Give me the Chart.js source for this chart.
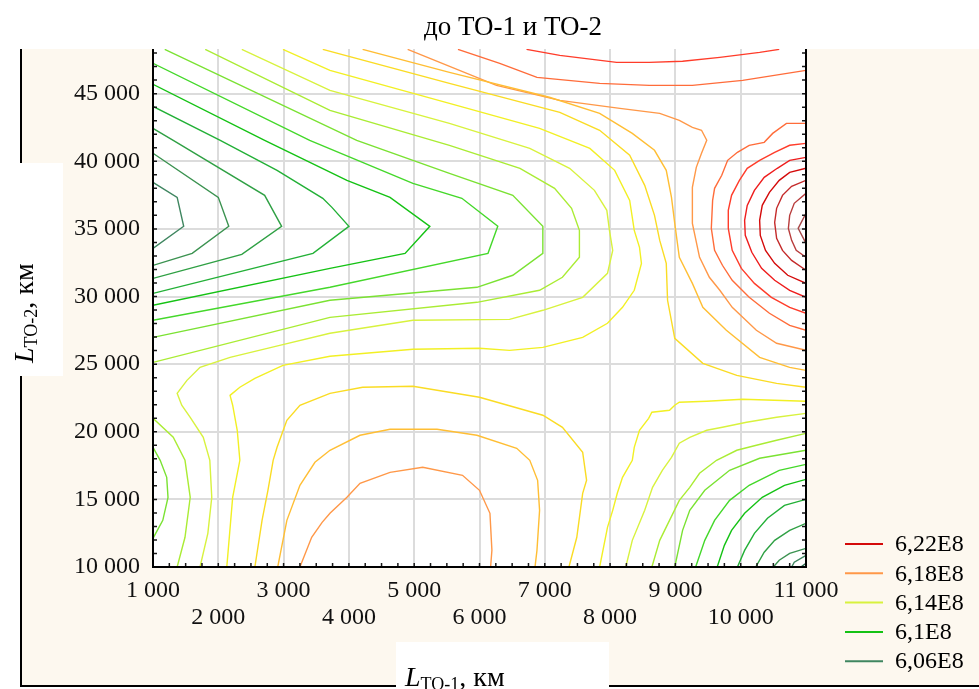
<!DOCTYPE html>
<html lang="ru">
<head>
<meta charset="utf-8">
<title>до ТО-1 и ТО-2</title>
<script src="https://cdn.jsdelivr.net/npm/chart.js@4.4.1/dist/chart.umd.min.js"></script>
<style>
  html, body { margin: 0; background: #ffffff; }
  #box { position: relative; width: 979px; height: 689px; }
</style>
</head>
<body>
<div id="box"><canvas id="plot"></canvas></div>
<script>
const xTicks = [1000, 2000, 3000, 4000, 5000, 6000, 7000, 8000, 9000, 10000, 11000];
const yTicks = [10000, 15000, 20000, 25000, 30000, 35000, 40000, 45000];
const xLimits = [1000, 11000];
const yLimits = [10000, 48300];

const legendNames = ['6,22E8', '6,18E8', '6,14E8', '6,1E8', '6,06E8'];
const legendLevels = [622, 618, 614, 610, 606];

// contour lines, one array per level; every line is a list of [L_TO-1, L_TO-2] points
const z605 = [
  [[11000, 10270], [10920, 10000]]
];
const z606 = [
  [[1000, 38440], [1370, 37330], [1470, 35190], [1000, 33560]],
  [[11000, 10860], [10820, 10350], [10780, 10000]]
];
const z607 = [
  [[1000, 40590], [2000, 37330], [2160, 35190], [1600, 33190], [1000, 32300]],
  [[11000, 11380], [10750, 11010], [10590, 10500], [10500, 10000]]
];
const z608 = [
  [[1000, 42430], [1310, 41550], [2710, 37480], [2970, 35190], [2360, 33120], [1000, 31340]],
  [[11000, 13230], [10750, 12710], [10520, 11970], [10360, 11090], [10230, 10000]]
];
const z609 = [
  [[1000, 44060], [2030, 41550], [2900, 39330], [3600, 37260], [3740, 36590], [4000, 35190], [3450, 33190], [1000, 30230]],
  [[11000, 15000], [10670, 14560], [10410, 13600], [10210, 12490], [10060, 11230], [9950, 10000]]
];
const z610 = [
  [[1000, 45690], [2710, 41550], [3970, 38590], [4630, 37330], [5240, 35190], [4860, 33190], [3710, 32080], [1000, 29350]],
  [[11000, 16480], [10670, 16040], [10330, 15150], [10060, 13970], [9860, 12710], [9750, 11600], [9640, 10000]]
];
const z611 = [
  [[1000, 47240], [3400, 41550], [4980, 38370], [5730, 37260], [6280, 35190], [6130, 33190], [3710, 30680], [1000, 28240]],
  [[11000, 17590], [10590, 17150], [10130, 16040], [9830, 14930], [9600, 13450], [9450, 11970], [9310, 10000]]
];
const z612 = [
  [[1180, 48270], [4120, 41550], [5540, 39110], [6510, 37480], [6970, 35190], [6970, 33190], [6510, 31570], [5960, 30680], [3710, 29720], [1000, 26980]],
  [[11000, 18630], [10290, 18040], [9830, 17150], [9450, 15670], [9220, 14190], [9110, 12710], [8990, 10000]],
  [[1000, 18850], [1110, 17890], [1210, 16630], [1230, 15150], [1150, 13450], [1000, 12120]]
];
const z613 = [
  [[1800, 48270], [3710, 43760], [5540, 41180], [6620, 39480], [7150, 38000], [7410, 36520], [7530, 34890], [7530, 32900], [7270, 31420], [6920, 30460], [5960, 29570], [3710, 28460], [1000, 25130]],
  [[1000, 20990], [1310, 19590], [1490, 17890], [1570, 15150], [1490, 12200], [1370, 10000]],
  [[11000, 19880], [10550, 19370], [10240, 19000], [9940, 18630], [9630, 17890], [9370, 16930], [9220, 15890], [9060, 14930], [8910, 13450], [8760, 11970], [8640, 10000]]
];
const z614 = [
  [[2360, 48270], [3710, 45240], [5540, 42800], [6770, 40950], [7380, 39480], [7760, 37850], [7950, 36370], [7990, 34890], [8040, 33410], [7960, 31710], [7580, 29940], [6970, 28980], [6460, 28310], [4980, 28240], [3710, 27280], [2940, 26390], [2180, 25500], [1720, 24760], [1520, 23800], [1370, 22840], [1440, 21960], [1570, 21070], [1770, 19590], [1870, 17890], [1900, 15150], [1840, 12490], [1720, 10000]],
  [[11000, 21360], [10550, 21070], [10090, 20700], [9720, 20330], [9480, 20110], [9220, 19590], [9060, 19150], [8940, 18110], [8800, 17150], [8650, 15890], [8530, 14190], [8340, 11970], [8240, 10000]]
];
const z615 = [
  [[2990, 48270], [3710, 46720], [5540, 44280], [6920, 42430], [7690, 40950], [8070, 39330], [8300, 37110], [8370, 34890], [8450, 33640], [8480, 32450], [8370, 30460], [8190, 29200], [7960, 28020], [7580, 26980], [6970, 26240], [6460, 26020], [6000, 26170], [4980, 26100], [3710, 25580], [2990, 24910], [2560, 23950], [2330, 23290], [2180, 22690], [2220, 21960], [2290, 20110], [2330, 17890], [2220, 15150], [2130, 10000]],
  [[11000, 22250], [10030, 22400], [9480, 22250], [9060, 22180], [8990, 21960], [8910, 21590], [8640, 21440], [8590, 20990], [8450, 20110], [8370, 18850], [8340, 17890], [8190, 16630], [8110, 15450], [8040, 14190], [7960, 12930], [7840, 10000]]
];
const z616 = [
  [[3600, 48270], [5540, 45760], [7230, 43620], [7840, 42290], [8300, 40440], [8530, 38220], [8680, 36000], [8760, 34150], [8860, 32450], [8880, 29720], [8990, 26910], [9420, 25060], [9940, 24170], [10550, 23580], [11000, 23290]],
  [[2560, 10000], [2670, 13450], [2760, 15670], [2840, 17890], [2900, 18850], [3050, 20850], [3250, 21960], [3710, 22840], [4210, 23290], [4980, 23360], [6000, 22550], [6970, 21220], [7270, 20330], [7580, 18480], [7640, 16410], [7580, 15450], [7490, 12200], [7370, 10000]]
];
const z617 = [
  [[4210, 48270], [5540, 46570], [7070, 44730], [7840, 43540], [8340, 42060], [8680, 40810], [8860, 39330], [8940, 37330], [8990, 35410], [9060, 32900], [9260, 30970], [9420, 29200], [9780, 27500], [10290, 25500], [10750, 24760], [11000, 24540]],
  [[2910, 10000], [3050, 13450], [3250, 16040], [3480, 17740], [3710, 18630], [4170, 19740], [4630, 20180], [5350, 20180], [5960, 19740], [6570, 18780], [6770, 17890], [6890, 16410], [6920, 14190], [6880, 11230], [6850, 10000]]
];
const z618 = [
  [[4900, 48270], [6260, 45610], [7230, 44500], [8150, 43910], [8760, 43540], [9060, 43020], [9260, 42510], [9400, 42290], [9480, 41550], [9400, 40590], [9320, 39550], [9260, 38070], [9260, 35410], [9370, 32900], [9520, 31420], [9680, 30460], [9870, 29200], [10240, 27500], [10550, 26540], [11000, 26020]],
  [[3250, 10000], [3430, 12200], [3590, 13300], [3710, 13970], [3970, 15150], [4170, 16190], [4630, 17000], [5130, 17370], [5740, 16780], [6000, 15670], [6160, 13970], [6190, 11230], [6170, 10000]]
];
const z619 = [
  [[5670, 48270], [6310, 47240], [6880, 46200], [7840, 45760], [8600, 45610], [9260, 45610], [10030, 45980], [11000, 46720]],
  [[11000, 42800], [10700, 42800], [10490, 42060], [10360, 41400], [10130, 41180], [9950, 40660], [9800, 40070], [9710, 38960], [9600, 38000], [9570, 37110], [9550, 35040], [9600, 33410], [9720, 32310], [9870, 31200], [10130, 29940], [10440, 28760], [10750, 27870], [11000, 27500]]
];
const z620 = [
  [[6720, 48270], [7230, 47830], [8100, 47310], [8600, 47310], [9110, 47390], [9680, 47680], [10290, 48050], [10590, 48270]],
  [[11000, 41320], [10750, 41180], [10520, 40660], [10290, 40070], [10100, 39480], [9980, 38590], [9860, 37480], [9810, 36370], [9810, 35040], [9870, 33410], [10010, 32080], [10210, 30970], [10470, 29940], [10750, 29200], [11000, 28760]]
];
const z621 = [
  [[11000, 40290], [10750, 40070], [10560, 39480], [10360, 38810], [10210, 37850], [10100, 36740], [10060, 35630], [10070, 34520], [10170, 33270], [10320, 32080], [10520, 31200], [10750, 30460], [11000, 29940]]
];
const z622 = [
  [[11000, 39480], [10750, 39180], [10590, 38590], [10440, 37700], [10330, 36740], [10290, 35630], [10300, 34520], [10380, 33410], [10520, 32450], [10720, 31570], [11000, 30970]]
];
const z623 = [
  [[11000, 38590], [10780, 38150], [10640, 37480], [10550, 36520], [10520, 35480], [10550, 34300], [10640, 33410], [10780, 32670], [11000, 31940]]
];
const z624 = [
  [[11000, 37630], [10820, 36890], [10750, 36000], [10730, 35040], [10780, 34150], [10850, 33410], [11000, 32900]]
];
const z625 = [
  [[11000, 36150], [10880, 35040], [11000, 33930]]
];

const contours = {
  605: z605, 606: z606, 607: z607, 608: z608, 609: z609, 610: z610, 611: z611,
  612: z612, 613: z613, 614: z614, 615: z615, 616: z616, 617: z617, 618: z618,
  619: z619, 620: z620, 621: z621, 622: z622, 623: z623, 624: z624, 625: z625
};

const levelColors = {
  605: '#2f6f52', 606: '#3f8660', 607: '#3b9250', 608: '#2fa044', 609: '#22b036',
  610: '#14c214', 611: '#44d82a', 612: '#7ae232', 613: '#aaec34', 614: '#d8f23e',
  615: '#f2f024', 616: '#fadc24', 617: '#ffbe34', 618: '#ff9848', 619: '#ff6c3a',
  620: '#ff3c2a', 621: '#ee1c1c', 622: '#d40a0a', 623: '#c42a2a', 624: '#b83c3c', 625: '#a84a4a'
};

const serif = '"Liberation Serif", "Times New Roman", serif';
const cream = '#fdf8ef';

const datasets = [];
for (const lvl in contours) {
  contours[lvl].forEach(line => {
    datasets.push({
      data: line.map(([x, y]) => ({ x, y })),
      borderColor: levelColors[lvl],
      borderWidth: 1.4,
      showLine: true,
      pointRadius: 0,
      fill: false,
      tension: 0
    });
  });
}

const fmt = v => String(v).replace(/\B(?=(\d{3})+(?!\d))/g, ' ');

function drawParts(ctx, x, y, parts) {
  let cx = x;
  for (const p of parts) {
    ctx.font = p.font;
    ctx.fillText(p.text, cx, y + p.dy);
    cx += ctx.measureText(p.text).width;
  }
}

const axisName = sub => [
  { text: 'L', font: `italic 28px ${serif}`, dy: 0 },
  { text: sub, font: `18px ${serif}`, dy: 4 },
  { text: ', км', font: `28px ${serif}`, dy: 0 }
];

const decor = {
  id: 'decor',
  beforeDraw(chart) {
    const { ctx, chartArea: a, width, height } = chart;
    ctx.save();
    ctx.fillStyle = '#ffffff';
    ctx.fillRect(0, 0, width, height);
    ctx.fillStyle = cream;
    ctx.fillRect(21, 49, width - 21, 637);
    ctx.strokeStyle = '#000000';
    ctx.lineWidth = 2;
    ctx.beginPath();
    ctx.moveTo(21, 49);
    ctx.lineTo(21, 686);
    ctx.lineTo(width, 686);
    ctx.stroke();
    ctx.fillStyle = '#ffffff';
    ctx.fillRect(19, 163, 44, 213);
    ctx.fillRect(396, 642, 213, 47);
    ctx.fillRect(a.left, a.top, a.right - a.left, a.bottom - a.top);
    ctx.restore();
  },
  afterDatasetsDraw(chart) {
    const { ctx, chartArea: a, scales: { x, y } } = chart;
    ctx.save();
    ctx.strokeStyle = '#1a1a1a';
    ctx.lineWidth = 1.5;
    ctx.beginPath();
    for (let v = xLimits[0]; v <= xLimits[1]; v += 250) {
      const px = x.getPixelForValue(v);
      ctx.moveTo(px, a.bottom);
      ctx.lineTo(px, a.bottom - 4);
    }
    for (let v = yLimits[0]; v <= yLimits[1]; v += 1000) {
      const py = y.getPixelForValue(v);
      ctx.moveTo(a.left, py);
      ctx.lineTo(a.left + 4, py);
      ctx.moveTo(a.right, py);
      ctx.lineTo(a.right - 4, py);
    }
    ctx.stroke();
    ctx.strokeStyle = '#000000';
    ctx.lineWidth = 2;
    ctx.beginPath();
    ctx.moveTo(a.left, a.top);
    ctx.lineTo(a.left, a.bottom);
    ctx.lineTo(a.right, a.bottom);
    ctx.lineTo(a.right, a.top);
    ctx.stroke();
    ctx.restore();
  },
  afterDraw(chart) {
    const { ctx } = chart;
    ctx.save();
    ctx.fillStyle = '#000000';
    ctx.textBaseline = 'alphabetic';

    ctx.font = `27px ${serif}`;
    ctx.textAlign = 'center';
    ctx.fillText('до ТО-1 и ТО-2', 513, 35);

    ctx.textAlign = 'left';
    drawParts(ctx, 405, 686, axisName('ТО-1'));

    ctx.save();
    ctx.translate(33, 363);
    ctx.rotate(-Math.PI / 2);
    drawParts(ctx, 0, 0, axisName('ТО-2'));
    ctx.restore();

    // legend
    ctx.font = `24px ${serif}`;
    ctx.textBaseline = 'middle';
    legendNames.forEach((name, i) => {
      const ly = 544 + i * 29.3;
      ctx.strokeStyle = levelColors[legendLevels[i]];
      ctx.lineWidth = 2;
      ctx.beginPath();
      ctx.moveTo(845, ly);
      ctx.lineTo(883, ly);
      ctx.stroke();
      ctx.fillText(name, 895, ly + 1);
    });
    ctx.restore();
  }
};

new Chart(document.getElementById('plot'), {
  type: 'scatter',
  data: { datasets },
  options: {
    responsive: true,
    maintainAspectRatio: false,
    devicePixelRatio: 1,
    animation: false,
    events: [],
    layout: { padding: { top: 49, right: 173, bottom: 0, left: 0 } },
    plugins: { legend: { display: false }, tooltip: { enabled: false } },
    scales: {
      x: {
        type: 'linear',
        min: xLimits[0],
        max: xLimits[1],
        afterBuildTicks: s => { s.ticks = xTicks.map(v => ({ value: v })); },
        afterFit: s => { s.height = 122; },
        grid: { color: '#dcdcdc', lineWidth: 2, drawTicks: false },
        border: { display: false },
        ticks: {
          autoSkip: false,
          maxRotation: 0,
          padding: 10,
          color: '#111111',
          font: { family: serif, size: 24, lineHeight: 1.125 },
          callback: v => ((v / 1000) % 2 === 1 ? [fmt(v), ''] : ['', fmt(v)])
        }
      },
      y: {
        type: 'linear',
        min: yLimits[0],
        max: yLimits[1],
        afterBuildTicks: s => { s.ticks = yTicks.map(v => ({ value: v })); },
        afterFit: s => { s.width = 153; },
        grid: { color: '#dcdcdc', lineWidth: 2, drawTicks: false },
        border: { display: false },
        ticks: {
          padding: 13,
          color: '#111111',
          font: { family: serif, size: 24 },
          callback: v => fmt(v)
        }
      }
    }
  },
  plugins: [decor]
});
</script>
</body>
</html>
